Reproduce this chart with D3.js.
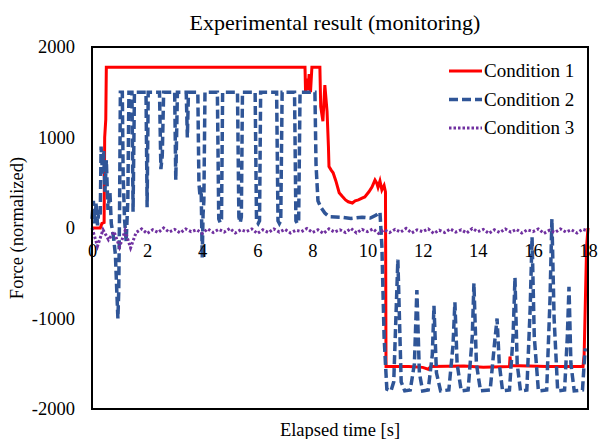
<!DOCTYPE html>
<html>
<head>
<meta charset="utf-8">
<script src="https://cdn.jsdelivr.net/npm/d3@7"></script>
<style>
body { margin: 0; background: #fff; }
</style>
</head>
<body>
<svg width="599" height="439"></svg>
<script>
var xTicks = [0, 2, 4, 6, 8, 10, 12, 14, 16, 18];
var yTicks = [-2000, -1000, 0, 1000, 2000];
var seriesNames = ["Condition 1", "Condition 2", "Condition 3"];

// condition 1: [time s, force]
var cond1 = [
  [0, 0], [0.3, 0], [0.36, 50], [0.44, 60], [0.46, 1000], [0.5, 1200], [0.52, 1775],
  [7.73, 1775], [7.75, 1500], [7.8, 1650], [7.84, 1520], [7.88, 1700], [7.93, 1500],
  [7.98, 1775], [8.27, 1775], [8.3, 1340], [8.38, 1180], [8.45, 1580], [8.53, 1290],
  [8.58, 900], [8.6, 680], [8.68, 640], [8.75, 610], [8.85, 520], [8.97, 390],
  [9.08, 350], [9.2, 310], [9.3, 290], [9.45, 276], [9.55, 300], [9.67, 310],
  [9.8, 330], [9.9, 343], [10.05, 400], [10.16, 453], [10.27, 530], [10.33, 500],
  [10.38, 450], [10.45, 520], [10.52, 420], [10.6, 470], [10.65, 400], [10.67, -1530],
  [11.5, -1530], [12.0, -1540], [12.2, -1560], [12.3, -1530], [13.5, -1525],
  [14.2, -1540], [15.15, -1530], [15.17, -1420], [15.2, -1520], [16.5, -1530],
  [17.82, -1530], [17.86, -1400], [17.95, -200], [18.0, 0]
];

// condition 2
var cond2 = [
  [0, 100], [0.05, 300], [0.1, 50], [0.15, 280], [0.2, 30], [0.25, 200], [0.3, 150],
  [0.33, 900], [0.38, 600], [0.42, 850], [0.47, 400], [0.52, 750], [0.58, 200],
  [0.65, 400], [0.7, 50], [0.78, -100], [0.85, -300], [0.9, -700], [0.94, -1000],
  [0.97, -700], [1.0, 200], [1.03, 1500], [1.1, 1500], [1.13, 600], [1.18, 100],
  [1.24, -150], [1.3, 300], [1.34, 1500], [1.45, 1500], [1.49, 180], [1.54, 1500],
  [1.96, 1500], [2.0, 230], [2.04, 1500], [2.45, 1500], [2.5, 650], [2.55, 800],
  [2.6, 1500], [3.0, 1500], [3.04, 530], [3.1, 1500], [3.42, 1500], [3.46, 1000],
  [3.5, 1500], [3.84, 1500], [3.88, 500], [3.92, 350], [3.96, 450], [4.0, -330],
  [4.03, 150], [4.06, 300], [4.1, 1500], [4.55, 1500], [4.6, 100], [4.65, 60],
  [4.7, 100], [4.74, 1500], [5.28, 1500], [5.33, 120], [5.38, 60], [5.42, 120],
  [5.46, 1500], [5.92, 1500], [5.97, 80], [6.03, 50], [6.08, 80], [6.12, 1500],
  [6.7, 1500], [6.75, 80], [6.8, 50], [6.85, 80], [6.9, 1500], [7.35, 1500],
  [7.4, 80], [7.45, 50], [7.5, 80], [7.55, 1500], [8.09, 1500], [8.13, 700],
  [8.2, 300], [8.3, 230], [8.45, 165], [8.6, 125], [9.0, 120], [9.4, 105],
  [9.8, 120], [10.1, 110], [10.3, 140], [10.45, 175], [10.52, -200], [10.6, -1200],
  [10.65, -1500], [10.7, -1780], [10.85, -1800], [10.95, -1700], [11.1, -350],
  [11.22, -1700], [11.35, -1800], [11.55, -1790], [11.7, -1500], [11.79, -685],
  [11.88, -1600], [12.0, -1800], [12.2, -1790], [12.35, -1400], [12.41, -860],
  [12.5, -1600], [12.65, -1800], [12.95, -1790], [13.1, -1300], [13.17, -820],
  [13.25, -1500], [13.4, -1800], [13.65, -1790], [13.8, -1200], [13.86, -610],
  [13.95, -1500], [14.1, -1800], [14.45, -1790], [14.6, -1300], [14.7, -1000],
  [14.78, -1500], [14.9, -1800], [15.15, -1790], [15.28, -1200], [15.35, -550],
  [15.43, -1500], [15.55, -1800], [15.78, -1790], [15.9, -900], [15.97, -100],
  [16.05, -1200], [16.2, -1800], [16.5, -1790], [16.62, -800], [16.69, 100],
  [16.77, -1000], [16.9, -1800], [17.15, -1790], [17.25, -1200], [17.31, -650],
  [17.38, -1500], [17.5, -1800], [17.8, -1790], [17.86, -1500], [17.9, -1330]
];

// condition 3, sampled evenly over 0-18 s
var cond3 = [0, -200, -20, -130, -40, -210, -30, -220, -50, -10, -60, -20, -50, 0, -45,
  -15, -55, -10, -40, -20, -60, -10, -50, -15, -45, -5, -55, -20, -40, -10, -60, -20,
  -50, -10, -45, -15, -55, -25, -40, -5, -50, -20, -60, -10, -45, -20, -50, -5, -55,
  -15, -40, -10, -60, -20, -50, -15, -45, -5, -55, -20, -40, -10, -60, -25, -50, -10,
  -45, -20, -55, -5, -40, -15, -60, -20, -50, -10, -45, -15, -55, -20, -40, -10, -60,
  -25, -50, -10, -45, -20, -55, -15, -30];

var serif = "'Liberation Serif', 'Times New Roman', Times, serif";

var svg = d3.select("svg").attr("font-family", serif);
var plotL = 92, plotT = 47, plotR = 588, plotB = 409;

var x = d3.scaleLinear().domain([0, 18]).range([plotL, plotR]);
var y = d3.scaleLinear().domain([-2000, 2000]).range([plotB, plotT]);

var line = d3.line()
    .x(function(d) { return x(d[0]); })
    .y(function(d) { return y(d[1]); });

var step = 18 / (cond3.length - 1);
var cond3pts = cond3.map(function(v, i) { return [i * step, v]; });

svg.append("path").datum(cond1)
    .attr("d", line).attr("fill", "none")
    .attr("stroke", "#ff0000").attr("stroke-width", 3);

svg.append("path").datum(cond2)
    .attr("d", line).attr("fill", "none")
    .attr("stroke", "#2f5597").attr("stroke-width", 3.5)
    .attr("stroke-dasharray", "9,4");

svg.append("path").datum(cond3pts)
    .attr("d", line).attr("fill", "none")
    .attr("stroke", "#7030a0").attr("stroke-width", 3)
    .attr("stroke-dasharray", "2.5,2");

// frame
svg.append("rect")
    .attr("x", plotL).attr("y", plotT)
    .attr("width", plotR - plotL).attr("height", plotB - plotT)
    .attr("fill", "none").attr("stroke", "#000").attr("stroke-width", 2);

var xAxis = svg.append("g")
    .attr("transform", "translate(0," + y(0) + ")")
    .call(d3.axisBottom(x).tickValues(xTicks).tickSize(0).tickPadding(16)
      .tickFormat(function(d) { return String(d); }));
xAxis.select(".domain").remove();
xAxis.attr("font-family", serif).attr("font-size", 18.5);
xAxis.selectAll("text").style("font-family", serif).attr("fill", "#000");

var yAxis = svg.append("g")
    .attr("transform", "translate(" + plotL + ",0)")
    .call(d3.axisLeft(y).tickValues(yTicks).tickSize(0).tickPadding(17)
      .tickFormat(function(d) { return String(d); }));
yAxis.select(".domain").remove();
yAxis.attr("font-family", serif).attr("font-size", 18.5);
yAxis.selectAll("text").style("font-family", serif).attr("fill", "#000");

svg.append("text")
    .attr("x", 335).attr("y", 30)
    .attr("text-anchor", "middle")
    .style("font-family", serif)
    .style("font-size", "22px")
    .text("Experimental result (monitoring)");

svg.append("text")
    .attr("x", 340).attr("y", 436)
    .attr("text-anchor", "middle")
    .style("font-family", serif)
    .style("font-size", "18.5px")
    .text("Elapsed time [s]");

svg.append("text")
    .attr("transform", "translate(23,228) rotate(-90)")
    .attr("text-anchor", "middle")
    .style("font-family", serif)
    .style("font-size", "18.5px")
    .text("Force (normalized)");

// legend
var legendStyles = [
  { color: "#ff0000", width: 3, dash: null },
  { color: "#2f5597", width: 3.5, dash: "9,4" },
  { color: "#7030a0", width: 3, dash: "2.5,2" }
];
var legend = svg.append("g");
seriesNames.forEach(function(name, i) {
  var ly = 71 + i * 28.5;
  var s = legendStyles[i];
  legend.append("line")
      .attr("x1", 449).attr("x2", 482).attr("y1", ly).attr("y2", ly)
      .attr("stroke", s.color).attr("stroke-width", s.width)
      .attr("stroke-dasharray", s.dash);
  legend.append("text")
      .attr("x", 484).attr("y", ly + 6)
      .style("font-family", serif)
      .style("font-size", "19px")
      .text(name);
});
</script>
</body>
</html>
